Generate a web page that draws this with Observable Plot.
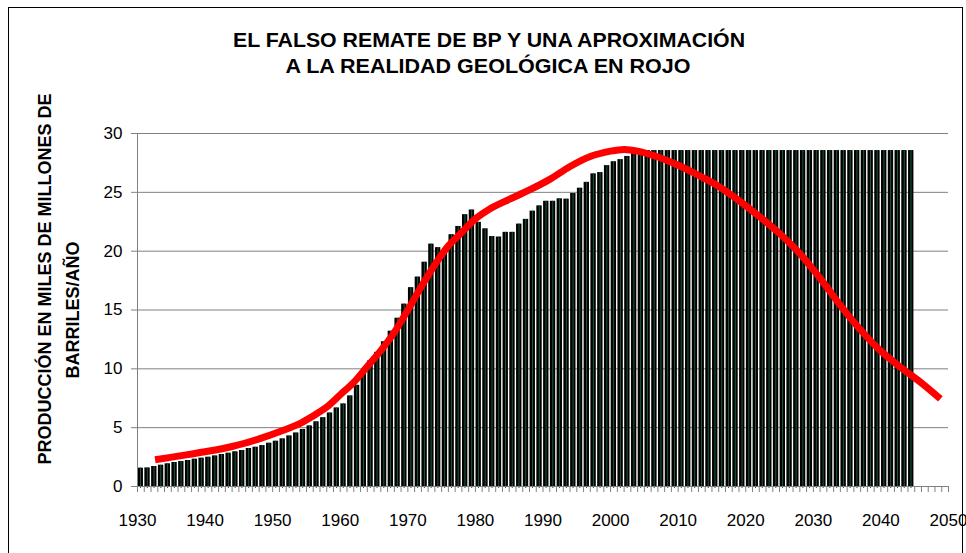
<!DOCTYPE html>
<html>
<head>
<meta charset="utf-8">
<script src="https://cdn.jsdelivr.net/npm/d3@7"></script>
<script src="https://cdn.jsdelivr.net/npm/@observablehq/plot@0.6"></script>
<style>
  html, body { margin: 0; padding: 0; background: #fff; }
  #chart svg { display: block; }
</style>
</head>
<body>
<div id="chart"></div>
<script>
// ---- Data ----
const titleLines = ["EL FALSO REMATE DE BP Y UNA APROXIMACIÓN", "A LA REALIDAD GEOLÓGICA EN ROJO"];
const yTitleLines = ["PRODUCCIÓN EN MILES DE MILLONES DE", "BARRILES/AÑO"];

const barYears = d3.range(1930, 2045); // 1930..2044
const barValues = [
  1.56, 1.58, 1.70, 1.81, 1.93, 2.04, 2.12, 2.21, 2.32, 2.41,   // 1930s
  2.49, 2.60, 2.72, 2.83, 2.95, 3.06, 3.23, 3.34, 3.48, 3.68,   // 1940s
  3.85, 4.05, 4.30, 4.55, 4.85, 5.15, 5.50, 5.85, 6.25, 6.68,   // 1950s
  7.02, 7.70, 8.60, 9.65, 10.70, 11.40, 12.30, 13.20, 14.30, 15.50, // 1960s
  16.90, 17.80, 19.06, 20.60, 20.30, 20.05, 21.40, 22.10, 23.10, 23.50, // 1970s
  22.45, 21.90, 21.24, 21.20, 21.60, 21.60, 22.30, 22.70, 23.40, 23.85, // 1980s
  24.24, 24.24, 24.45, 24.42, 24.90, 25.35, 25.85, 26.57, 26.68, 27.27, // 1990s
  27.60, 27.78, 28.05, 28.55, 28.55, 28.55, 28.55, 28.55, 28.55, 28.55, // 2000s
  28.55, 28.55, 28.55, 28.55, 28.55, 28.55, 28.55, 28.55, 28.55, 28.55, // 2010s
  28.55, 28.55, 28.55, 28.55, 28.55, 28.55, 28.55, 28.55, 28.55, 28.55, // 2020s
  28.55, 28.55, 28.55, 28.55, 28.55, 28.55, 28.55, 28.55, 28.55, 28.55, // 2030s
  28.55, 28.55, 28.55, 28.55, 28.55                                    // 2040-2044
];

const redYears = [1932.6, 1936, 1940, 1944, 1948, 1951, 1954, 1956, 1958, 1960,
  1962, 1964, 1966, 1968, 1970, 1972, 1974, 1976, 1978, 1980,
  1982, 1985, 1988, 1991, 1994, 1997, 2000, 2002, 2004, 2007,
  2010, 2013, 2016, 2019, 2022, 2025, 2028, 2031, 2034, 2037,
  2040, 2043, 2046, 2048.8];
const redValues = [2.27, 2.58, 2.95, 3.40, 4.05, 4.65, 5.35, 6.00, 6.75, 7.80,
  8.85, 10.20, 11.55, 13.10, 15.00, 17.00, 18.85, 20.45, 21.60, 22.75,
  23.55, 24.40, 25.20, 26.10, 27.20, 28.05, 28.50, 28.65, 28.50, 28.00,
  27.30, 26.45, 25.50, 24.30, 22.95, 21.50, 19.80, 17.70, 15.40, 13.30,
  11.50, 10.10, 8.80, 7.45];

const yTicks = [0, 5, 10, 15, 20, 25, 30];
const xTicks = d3.range(1930, 2051, 1);

const bars = barYears.map((y, i) => ({year: y, value: barValues[i]}));
const red = redYears.map((y, i) => ({year: y, value: redValues[i]}));

const FONT = "'Liberation Sans', Arial, Helvetica, sans-serif";

const chart = Plot.plot({
  width: 966,
  height: 553,
  marginLeft: 137,
  marginRight: 18,
  marginTop: 133,
  marginBottom: 67,
  style: {fontFamily: FONT, fontSize: "17px", color: "#000", background: "#fff", overflow: "visible"},
  x: {type: "linear", domain: [1930, 2050]},
  y: {domain: [0, 30]},
  marks: [
    Plot.gridY(yTicks.filter(d => d > 0), {stroke: "#808080", strokeOpacity: 1, strokeWidth: 1}),
    Plot.rectY(bars, {x1: "year", x2: d => d.year + 1, y: "value", fill: "#000", insetLeft: 0.6, insetRight: 0.8}),
    Plot.ruleX(bars, {x: d => d.year + 0.45, y1: 0, y2: "value", stroke: "#1f5c3c", strokeWidth: 1, insetTop: 2}),
    Plot.ruleY([0], {stroke: "#808080", strokeWidth: 1}),
    Plot.ruleX([1930], {stroke: "#808080", strokeWidth: 1}),
    Plot.axisY({ticks: yTicks, tickSize: 6, tickPadding: 9, stroke: "#808080", fontSize: 17, fill: "#000", label: null}),
    Plot.axisX({ticks: xTicks, tickSize: 6, tickPadding: 21, stroke: "#808080", fontSize: 17, fill: "#000", label: null,
      tickFormat: d => (d % 10 === 0 ? String(d) : "")}),
    Plot.line(red, {x: "year", y: "value", stroke: "#ff0000", strokeWidth: 7, curve: "catmull-rom", strokeLinecap: "butt"})
  ]
});

document.getElementById("chart").appendChild(chart);

const svg = d3.select(chart);
// outer chart border
svg.append("rect").attr("x", 8.5).attr("y", 7.5).attr("width", 954).attr("height", 570)
  .attr("fill", "none").attr("stroke", "#000").attr("stroke-width", 1);

// title
const tg = svg.append("g").attr("font-family", FONT).attr("font-weight", "bold").attr("font-size", 21)
  .attr("text-anchor", "middle").attr("fill", "#000");
tg.append("text").attr("x", 489).attr("y", 47).attr("textLength", 512).attr("lengthAdjust", "spacingAndGlyphs").text(titleLines[0]);
tg.append("text").attr("x", 488).attr("y", 73).attr("textLength", 405).attr("lengthAdjust", "spacingAndGlyphs").text(titleLines[1]);

// y-axis title
const yg = svg.append("g").attr("font-family", FONT).attr("font-weight", "bold").attr("font-size", 18)
  .attr("text-anchor", "middle").attr("fill", "#000");
yg.append("text").attr("transform", "translate(51,279) rotate(-90)").text(yTitleLines[0]);
yg.append("text").attr("transform", "translate(79,310) rotate(-90)").text(yTitleLines[1]);
</script>
</body>
</html>
